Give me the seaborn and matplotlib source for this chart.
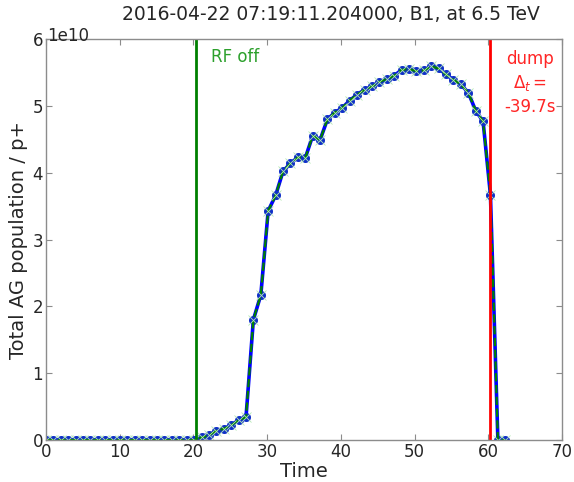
#!/usr/bin/env python

"""
Total abort-gap population around the dump, B1 at 6.5 TeV.
"""

import matplotlib

matplotlib.use("Agg")
import matplotlib.pyplot as plt
import pandas as pd
import seaborn as sns

TITLE = "2016-04-22 07:19:11.204000, B1, at 6.5 TeV"

# sample times (s)
times = [
    0.0, 1.0, 2.01, 3.02, 4.02, 5.03, 6.03, 7.04, 8.04, 9.05,
    10.05, 11.06, 12.06, 13.07, 14.07, 15.08, 16.08, 17.09, 18.09, 19.1,
    20.1, 21.11, 22.11, 23.12, 24.12, 25.13, 26.13, 27.14, 28.14, 29.15,
    30.15, 31.16, 32.16, 33.17, 34.17, 35.18, 36.18, 37.19, 38.19, 39.2,
    40.2, 41.21, 42.21, 43.22, 44.22, 45.23, 46.23, 47.24, 48.24, 49.25,
    50.25, 51.26, 52.26, 53.27, 54.27, 55.28, 56.28, 57.29, 58.29, 59.3,
    60.3, 61.31, 62.31,
]

# population in units of 1e10 p+
population = [
    0.0, 0.0, 0.0, 0.0, 0.0, 0.0, 0.0, 0.0, 0.0, 0.0,
    0.0, 0.0, 0.0, 0.0, 0.0, 0.0, 0.0, 0.0, 0.0, 0.0,
    0.0, 0.04, 0.07, 0.14, 0.17, 0.22, 0.30, 0.34, 1.80, 2.17,
    3.43, 3.66, 4.02, 4.14, 4.23, 4.22, 4.55, 4.49, 4.80, 4.90,
    4.97, 5.08, 5.17, 5.24, 5.29, 5.36, 5.40, 5.45, 5.54, 5.55,
    5.52, 5.53, 5.59, 5.56, 5.47, 5.39, 5.32, 5.20, 4.93, 4.77,
    3.67, 0.0, 0.0,
]

rf_off_time = 20.4
dump_time = 60.3
delta_t = -39.7


def main():
    df = pd.DataFrame({"time": times, "pop": [p * 1e10 for p in population]})

    sns.set_style("ticks")
    plt.rcParams["font.family"] = ["DejaVu Sans"]
    plt.rcParams["xtick.direction"] = "in"
    plt.rcParams["ytick.direction"] = "in"
    plt.rcParams["xtick.top"] = True
    plt.rcParams["ytick.right"] = True
    plt.rcParams["axes.edgecolor"] = "#8c8c8c"
    plt.rcParams["xtick.color"] = "#8c8c8c"
    plt.rcParams["ytick.color"] = "#8c8c8c"
    plt.rcParams["xtick.labelcolor"] = "#262626"
    plt.rcParams["ytick.labelcolor"] = "#262626"

    fig = plt.figure(figsize=(5.74, 4.82), dpi=100)
    ax = fig.add_axes([0.080, 0.087, 0.899, 0.832])

    sns.lineplot(
        data=df, x="time", y="pop", ax=ax, color="#0000ff", lw=2.6,
        marker="o", markersize=6.5, markeredgewidth=0,
        markerfacecolor="#1030c8", sort=False, estimator=None,
    )
    sns.lineplot(
        data=df, x="time", y="pop", ax=ax, color="#008000", lw=1.6,
        linestyle="--", dashes=(3, 2), marker="x", markersize=7,
        markeredgecolor="#b5e8b5", markeredgewidth=0.6, sort=False,
        estimator=None,
    )

    ax.axvline(rf_off_time, color="green", lw=2)
    ax.axvline(dump_time, color="red", lw=2)
    ax.text(22.4, 5.73e10, "RF off", color="#2ca02c", fontsize=12,
            va="center", ha="left")
    ax.text(65.7, 5.84e10, "dump\n$\\Delta_t=$\n%.1fs" % delta_t,
            color="red", fontsize=12, va="top", ha="center",
            linespacing=1.35, alpha=0.85)

    ax.set_xlim(0, 70)
    ax.set_ylim(0, 6e10)
    ax.tick_params(labelsize=12, length=4, width=0.8, pad=2)
    # scale factor drawn by hand so it sits where the original has it
    ax.yaxis.get_offset_text().set_visible(False)
    ax.text(0.003, 1.0087, "1e10", transform=ax.transAxes, fontsize=12,
            color="#262626", va="center", ha="left")
    ax.set_xlabel("Time", fontsize=14, labelpad=1)
    ax.set_ylabel("Total AG population / p+", fontsize=14, labelpad=3)
    ax.set_title(TITLE, fontsize=13.5, pad=14, x=0.552)
    for s in ax.spines.values():
        s.set_linewidth(1)

    fig.savefig("out.png", dpi=100)


if __name__ == "__main__":
    main()
